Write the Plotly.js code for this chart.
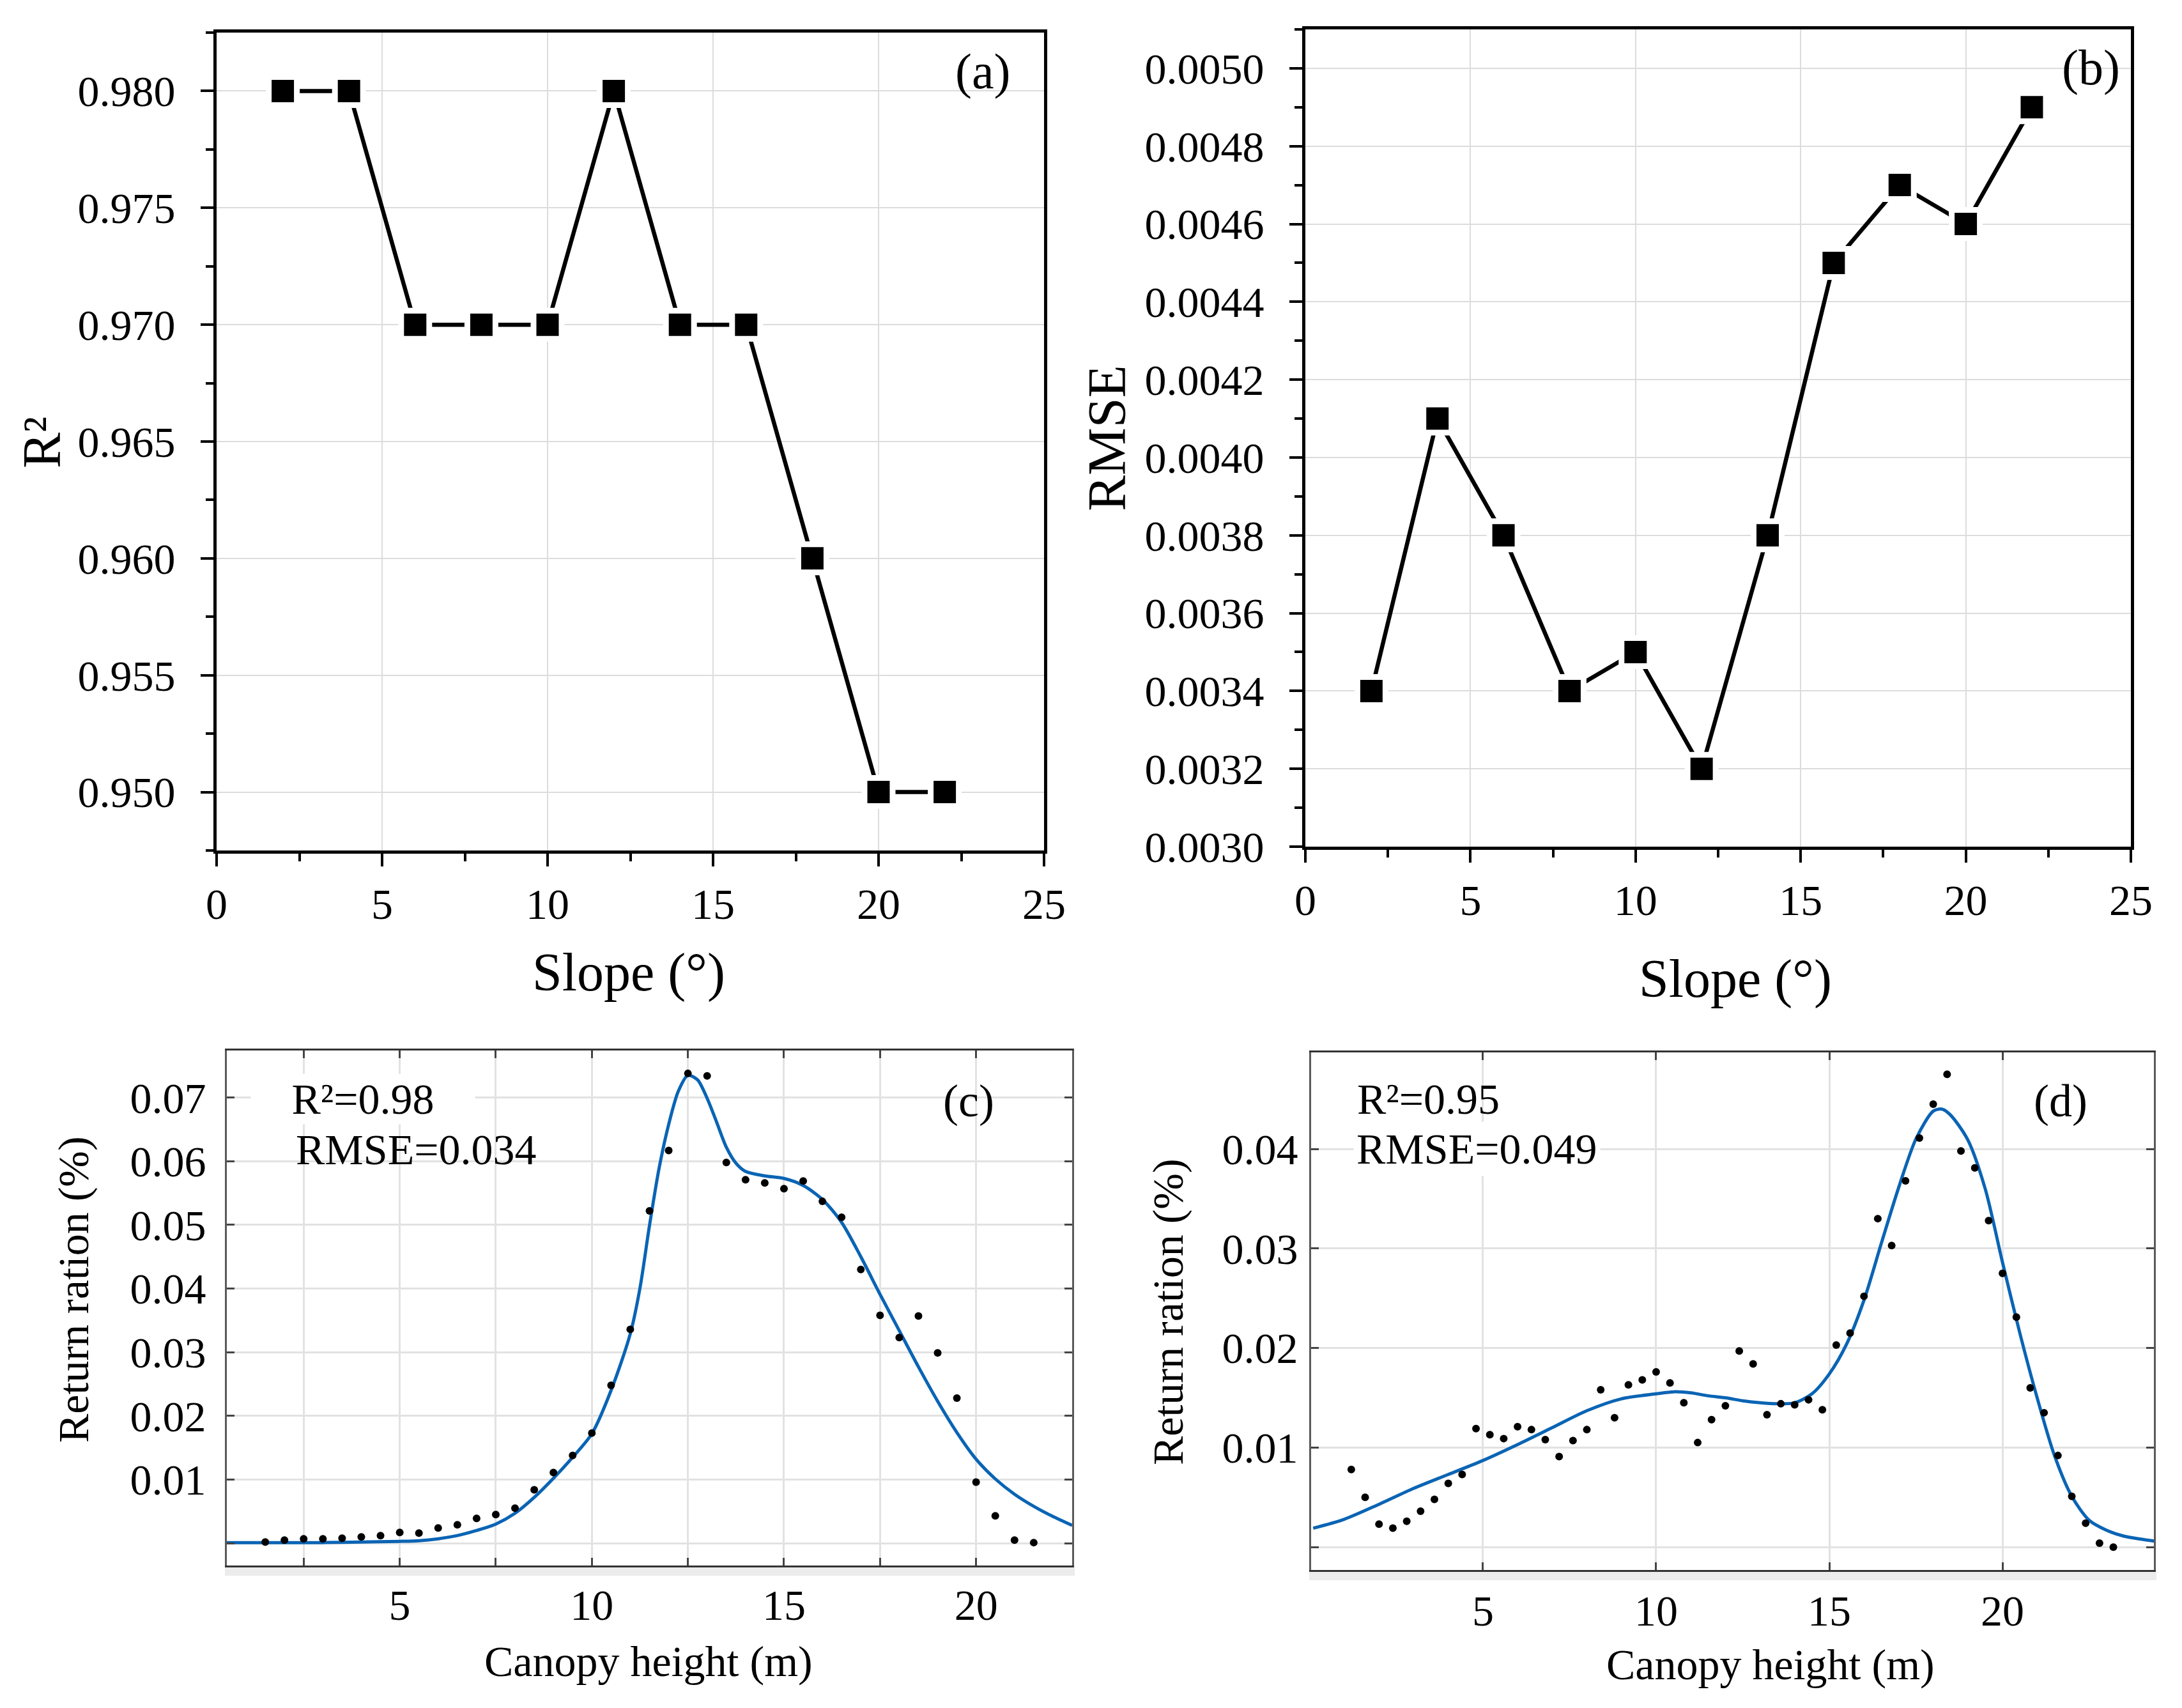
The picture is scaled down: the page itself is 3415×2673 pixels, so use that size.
<!DOCTYPE html>
<html>
<head>
<meta charset="utf-8">
<script src="https://cdn.plot.ly/plotly-3.0.1.min.js"></script>
<style>html,body{margin:0;padding:0;background:#fff;}#chart{width:3415px;height:2673px;}</style>
</head>
<body>
<div id="chart"></div>
<script>
// ---------- data ----------
const slopeDeg = [2, 4, 6, 8, 10, 12, 14, 16, 18, 20, 22];
const r2Values = [0.98, 0.98, 0.97, 0.97, 0.97, 0.98, 0.97, 0.97, 0.96, 0.95, 0.95];
const rmseValues = [0.0034, 0.0041, 0.0038, 0.0034, 0.0035, 0.0032, 0.0038, 0.0045, 0.0047, 0.0046, 0.0049];

const cHeights = [1.5, 2, 2.5, 3, 3.5, 4, 4.5, 5, 5.5, 6, 6.5, 7, 7.5, 8, 8.5, 9, 9.5, 10, 10.5, 11,
  11.5, 12, 12.5, 13, 13.5, 14, 14.5, 15, 15.5, 16, 16.5, 17, 17.5, 18, 18.5, 19, 19.5, 20, 20.5, 21, 21.5];
const cObserved = [0.0002, 0.0005, 0.0007, 0.0007, 0.0008, 0.0010, 0.0012, 0.0017, 0.0016, 0.0024,
  0.0029, 0.0039, 0.0045, 0.0055, 0.0084, 0.0111, 0.0138, 0.0173, 0.0248, 0.0336,
  0.0522, 0.0617, 0.0738, 0.0734, 0.0598, 0.0571, 0.0566, 0.0557, 0.0569, 0.0537,
  0.0512, 0.0430, 0.0358, 0.0323, 0.0357, 0.0299, 0.0228, 0.0096, 0.0043, 0.0005, 0.0001];
const cFitX = [0.5, 1, 2, 3, 4, 5, 5.5, 6, 6.5, 7, 7.5, 8, 8.5, 9, 9.5, 10, 10.5, 11, 11.25, 11.5,
  11.75, 12, 12.25, 12.5, 12.75, 13, 13.25, 13.5, 13.75, 14, 14.5, 15, 15.5, 16, 16.5, 17, 17.5, 18,
  18.5, 19, 19.5, 20, 20.5, 21, 21.5, 22, 22.5];
const cFitY = [0.0001, 0.0001, 0.0001, 0.0001, 0.0002, 0.0003, 0.0004, 0.0007, 0.0012, 0.0020,
  0.0030, 0.0047, 0.0072, 0.0102, 0.0135, 0.0172, 0.0240, 0.0329, 0.0400, 0.0499,
  0.0589, 0.0658, 0.0710, 0.0735, 0.0728, 0.0699, 0.0661, 0.0622, 0.0597, 0.0584,
  0.0577, 0.0573, 0.0562, 0.0540, 0.0504, 0.0450, 0.0391, 0.0334, 0.0277, 0.0223,
  0.0174, 0.0132, 0.0101, 0.0077, 0.0058, 0.0042, 0.0028];

const dHeights = [1.2, 1.6, 2.0, 2.4, 2.8, 3.2, 3.6, 4.0, 4.4, 4.8, 5.2, 5.6, 6.0, 6.4, 6.8, 7.2, 7.6, 8.0,
  8.4, 8.8, 9.2, 9.6, 10.0, 10.4, 10.8, 11.2, 11.6, 12.0, 12.4, 12.8, 13.2, 13.6, 14.0, 14.4, 14.8,
  15.2, 15.6, 16.0, 16.4, 16.8, 17.2, 17.6, 18.0, 18.4, 18.8, 19.2, 19.6, 20.0, 20.4, 20.8, 21.2,
  21.6, 22.0, 22.4, 22.8, 23.2];
const dObserved = [0.0078, 0.0050, 0.0023, 0.0019, 0.0026, 0.0036, 0.0048, 0.0064, 0.0073, 0.0119,
  0.0113, 0.0109, 0.0121, 0.0118, 0.0108, 0.0091, 0.0107, 0.0118, 0.0158, 0.0130,
  0.0163, 0.0168, 0.0176, 0.0165, 0.0145, 0.0105, 0.0128, 0.0142, 0.0197, 0.0184,
  0.0133, 0.0144, 0.0143, 0.0148, 0.0138, 0.0203, 0.0215, 0.0252, 0.0330, 0.0303,
  0.0368, 0.0411, 0.0445, 0.0475, 0.0398, 0.0381, 0.0328, 0.0275, 0.0231, 0.0160,
  0.0135, 0.0092, 0.0051, 0.0024, 0.0004, 0.0000];
const dFitX = [0.1, 1, 2, 3, 4, 5, 6, 7, 8, 9, 10, 10.5, 11, 11.5, 12, 12.5, 13, 13.5, 14, 14.5,
  15, 15.5, 16, 16.5, 17, 17.5, 18, 18.25, 18.5, 19, 19.5, 20, 20.5, 21, 21.5, 22, 22.5, 23, 23.5, 24, 24.4];
const dFitY = [0.0019, 0.0028, 0.0043, 0.0059, 0.0073, 0.0087, 0.0103, 0.0120, 0.0137, 0.0149,
  0.0154, 0.0156, 0.0155, 0.0152, 0.0150, 0.0147, 0.0145, 0.0144, 0.0145, 0.0154,
  0.0174, 0.0204, 0.0248, 0.0305, 0.0361, 0.0410, 0.0438, 0.0440, 0.0434, 0.0409,
  0.0360, 0.0286, 0.0215, 0.0150, 0.0092, 0.0051, 0.0027, 0.0017, 0.0011, 0.0008, 0.0006];

const cXTicks = [2.5, 5, 7.5, 10, 12.5, 15, 17.5, 20];
const cXTickText = ['', '5', '', '10', '', '15', '', '20'];
const cYTicks = [0, 0.01, 0.02, 0.03, 0.04, 0.05, 0.06, 0.07];
const cYTickText = ['', '0.01', '0.02', '0.03', '0.04', '0.05', '0.06', '0.07'];
const dXTicks = [5, 10, 15, 20];
const dXTickText = ['5', '10', '15', '20'];
const dYTicks = [0, 0.01, 0.02, 0.03, 0.04];
const dYTickText = ['', '0.01', '0.02', '0.03', '0.04'];

// ---------- layout helpers ----------
const W = 3415, H = 2673;
const FONT = '"Liberation Serif", "Times New Roman", Times, serif';
function px(x) { return x / W; }
function py(y) { return 1 - y / H; }

const squareMarker = {symbol: 'square', size: 44, color: '#000', line: {color: '#fff', width: 9}};
const blackLine = {color: '#000', width: 6.5};

const traces = [
  {x: slopeDeg, y: r2Values, xaxis: 'x', yaxis: 'y', mode: 'lines+markers', line: blackLine, marker: squareMarker, cliponaxis: false},
  {x: slopeDeg, y: rmseValues, xaxis: 'x2', yaxis: 'y2', mode: 'lines+markers', line: blackLine, marker: squareMarker, cliponaxis: false},
  {x: cFitX, y: cFitY, xaxis: 'x3', yaxis: 'y3', mode: 'lines', line: {color: '#0a64b4', width: 5, shape: 'spline', smoothing: 0.8}},
  {x: cHeights, y: cObserved, xaxis: 'x3', yaxis: 'y3', mode: 'markers', marker: {color: '#000', size: 12}},
  {x: dFitX, y: dFitY, xaxis: 'x4', yaxis: 'y4', mode: 'lines', line: {color: '#0a64b4', width: 5, shape: 'spline', smoothing: 0.8}},
  {x: dHeights, y: dObserved, xaxis: 'x4', yaxis: 'y4', mode: 'markers', marker: {color: '#000', size: 12}}
];

function topAxis(extra) {
  return Object.assign({
    ticks: 'outside', ticklen: 20, tickwidth: 4, tickcolor: '#000',
    showline: true, linewidth: 5, linecolor: '#000', mirror: true,
    showgrid: true, gridcolor: '#dcdcdc', gridwidth: 2, zeroline: false,
    tickfont: {family: FONT, size: 68, color: '#000'}, ticklabelstandoff: 26,
    fixedrange: true
  }, extra);
}
function bottomAxis(extra) {
  return Object.assign({
    ticks: 'inside', ticklen: 12, tickwidth: 3, tickcolor: '#444',
    showline: true, linewidth: 3, linecolor: '#5a5a5a', mirror: 'ticks',
    showgrid: true, gridcolor: '#e2e2e2', gridwidth: 3, zeroline: false,
    tickmode: 'array', tickfont: {family: FONT, size: 68, color: '#000'},
    fixedrange: true
  }, extra);
}

function label(text, x, y, size, opts) {
  return Object.assign({text: text, x: px(x), y: py(y), xref: 'paper', yref: 'paper', showarrow: false,
    xanchor: 'center', yanchor: 'middle', font: {family: FONT, size: size, color: '#000'}}, opts || {});
}

const layout = {
  width: W, height: H, margin: {l: 0, r: 0, t: 0, b: 0},
  paper_bgcolor: '#fff', plot_bgcolor: '#fff', showlegend: false,
  font: {family: FONT, color: '#000'},
  xaxis: topAxis({domain: [px(339), px(1634)], range: [0, 25], dtick: 5, anchor: 'y', ticklabelstandoff: 0,
    minor: {dtick: 2.5, ticks: 'outside', ticklen: 12, tickwidth: 4, tickcolor: '#000', showgrid: false}}),
  yaxis: topAxis({domain: [py(1331), py(51)], range: [0.9475, 0.9825], dtick: 0.005, tickformat: '.3f', anchor: 'x',
    minor: {dtick: 0.0025, ticks: 'outside', ticklen: 12, tickwidth: 4, tickcolor: '#000', showgrid: false}}),
  xaxis2: topAxis({domain: [px(2043), px(3335)], range: [0, 25], dtick: 5, anchor: 'y2', ticklabelstandoff: 0,
    minor: {dtick: 2.5, ticks: 'outside', ticklen: 12, tickwidth: 4, tickcolor: '#000', showgrid: false}}),
  yaxis2: topAxis({domain: [py(1325), py(46)], range: [0.0030, 0.0051], dtick: 0.0002, tickformat: '.4f', anchor: 'x2',
    minor: {dtick: 0.0001, ticks: 'outside', ticklen: 12, tickwidth: 4, tickcolor: '#000', showgrid: false}}),
  xaxis3: bottomAxis({domain: [px(355), px(1678)], range: [0.5, 22.5], tickvals: cXTicks, ticktext: cXTickText,
    anchor: 'y3', linecolor: '#333', ticklabelstandoff: 0}),
  yaxis3: bottomAxis({domain: [py(2450), py(1644)], range: [-0.0035, 0.0774], tickvals: cYTicks, ticktext: cYTickText,
    anchor: 'x3', ticklabelstandoff: 16}),
  xaxis4: bottomAxis({domain: [px(2052), px(3371)], range: [0.04, 24.37], tickvals: dXTicks, ticktext: dXTickText,
    anchor: 'y4', linecolor: '#333', ticklabelstandoff: 2}),
  yaxis4: bottomAxis({domain: [py(2457), py(1647)], range: [-0.0023, 0.0497], tickvals: dYTicks, ticktext: dYTickText,
    anchor: 'x4', ticklabelstandoff: 4}),
  shapes: [
    {type: 'rect', xref: 'paper', yref: 'paper', x0: px(352), x1: px(1682), y0: py(2466), y1: py(2452), fillcolor: '#ececec', line: {width: 0}, layer: 'below'},
    {type: 'rect', xref: 'paper', yref: 'paper', x0: px(2049), x1: px(3375), y0: py(2473), y1: py(2459), fillcolor: '#ececec', line: {width: 0}, layer: 'below'}
  ],
  annotations: [
    label('R²', 65, 693, 84, {textangle: -90}),
    label('Slope (°)', 984, 1522, 84),
    label('(a)', 1538, 111, 78),
    label('RMSE', 1733, 686, 84, {textangle: -90}),
    label('Slope (°)', 2716, 1532, 84),
    label('(b)', 3272, 105, 78),
    label('Return ration (%)', 115, 2018, 68, {textangle: -90}),
    label('Canopy height (m)', 1015, 2600, 68),
    label('R²=0.98', 568, 1720, 68, {bgcolor: '#fff', width: 348, align: 'center'}),
    label('RMSE=0.034', 461, 1799, 68, {xanchor: 'left'}),
    label('(c)', 1516, 1723, 72),
    label('Return ration (%)', 1828, 2053, 68, {textangle: -90}),
    label('Canopy height (m)', 2771, 2605, 68),
    label('R²=0.95', 2122, 1720, 68, {xanchor: 'left'}),
    label('RMSE=0.049', 2118, 1798, 68, {xanchor: 'left', bgcolor: '#fff', borderpad: 4}),
    label('(d)', 3225, 1723, 72)
  ]
};

Plotly.newPlot('chart', traces, layout, {staticPlot: true, displayModeBar: false});
</script>
</body>
</html>
